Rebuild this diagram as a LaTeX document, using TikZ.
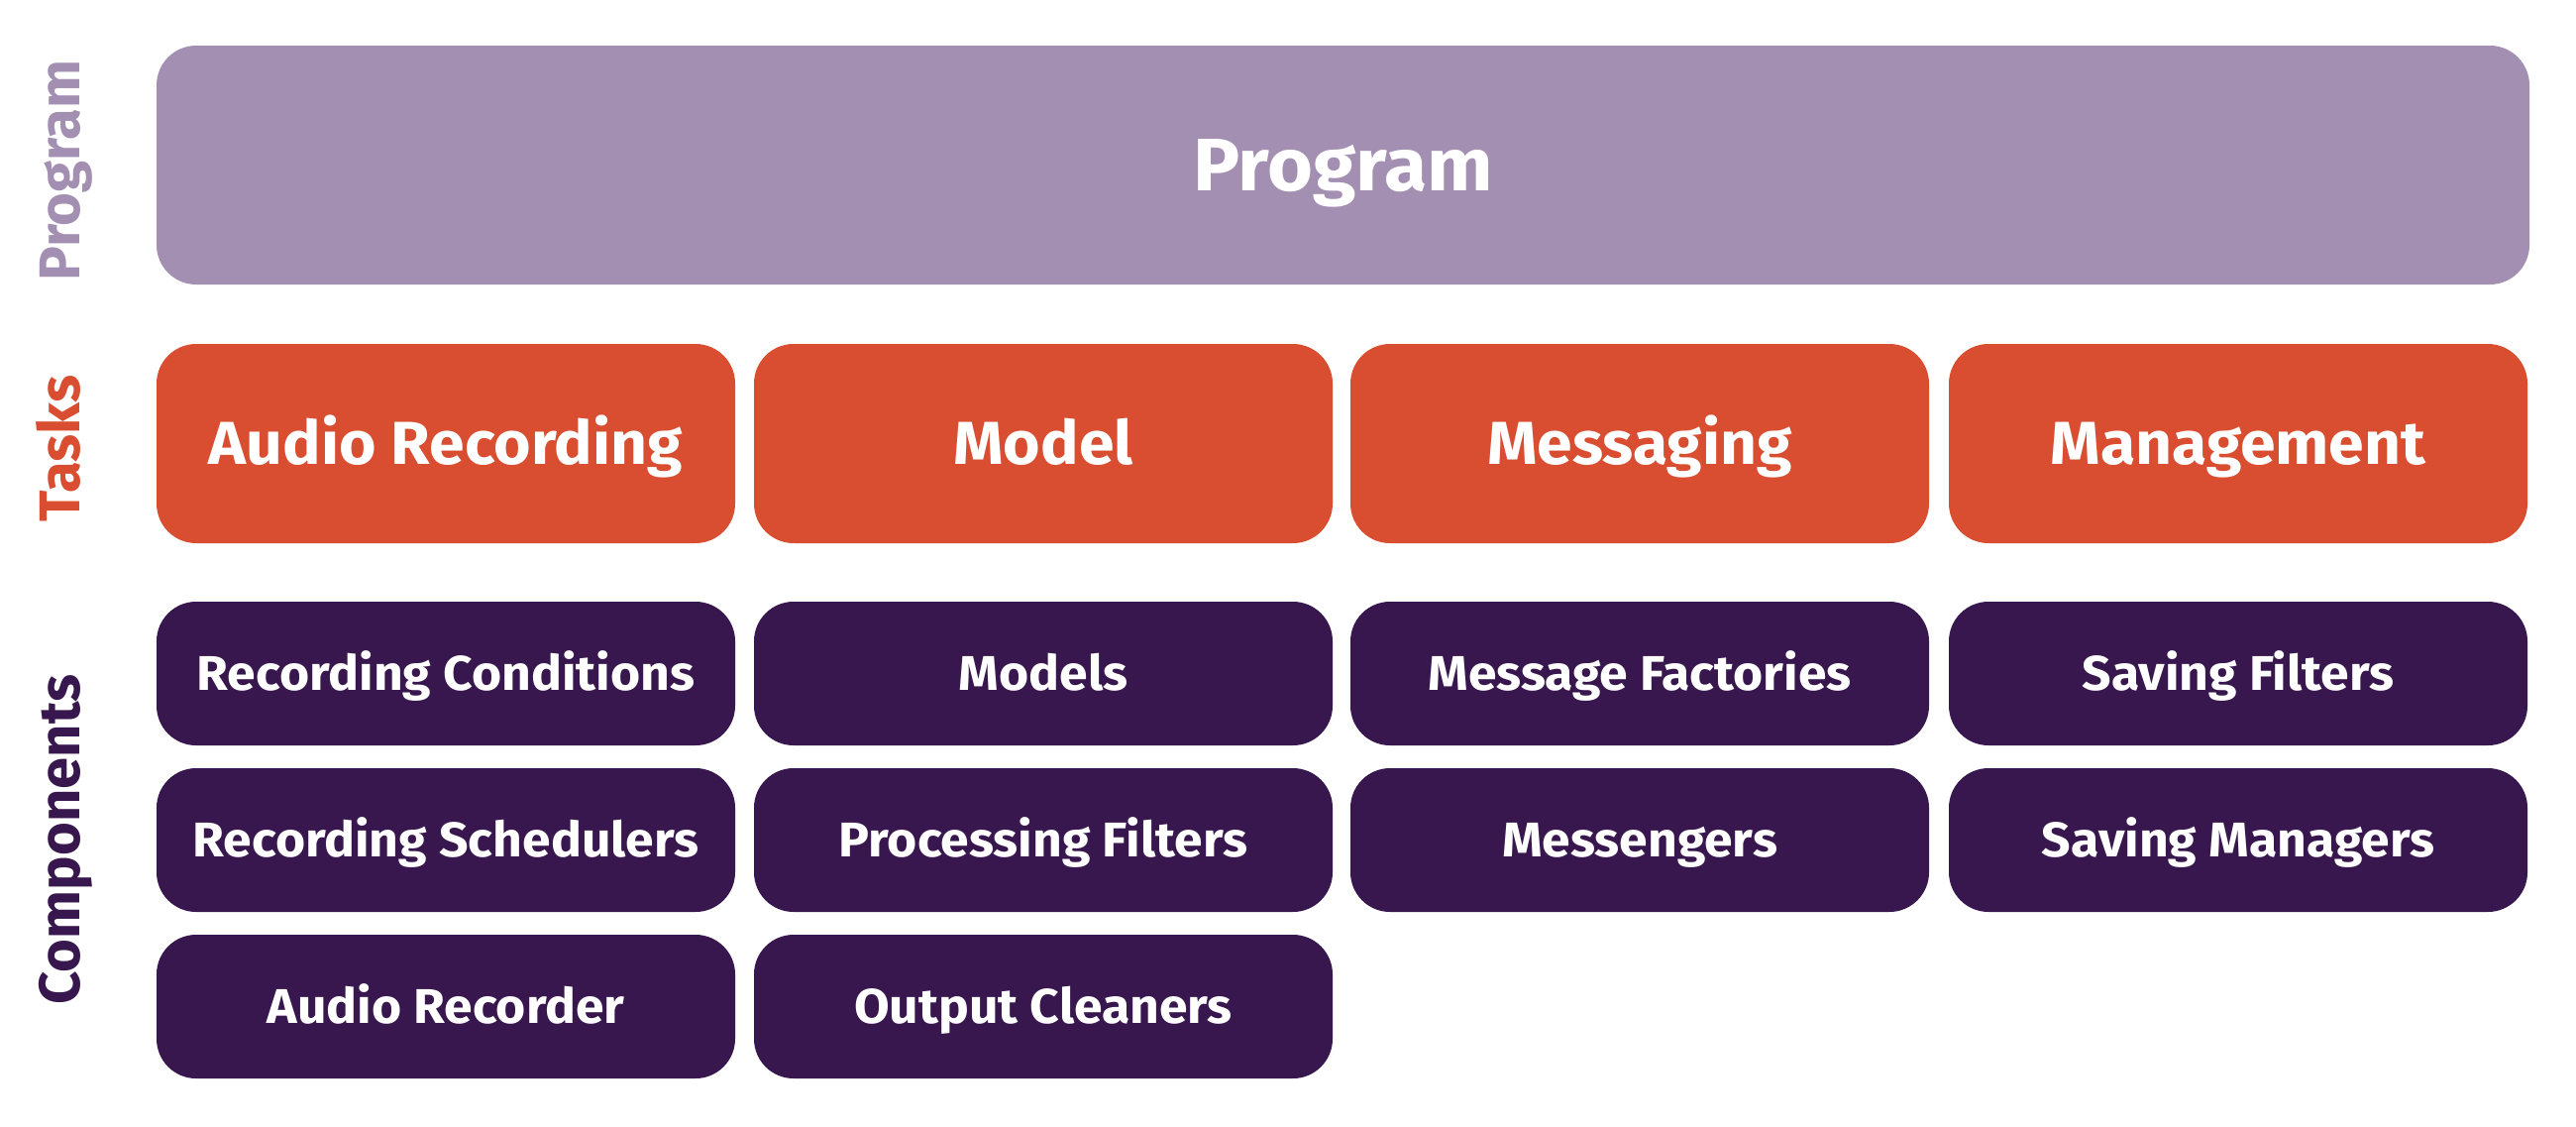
\documentclass[tikz,border=0pt]{standalone}
\usepackage{fontspec}
\setmainfont{Fira Sans}
\newfontfamily\boxfont{Fira Sans}[FakeStretch=1.05]
\definecolor{progc}{HTML}{A28FB1}
\definecolor{taskc}{HTML}{D94E30}
\definecolor{compc}{HTML}{37174D}
\begin{document}
\begin{tikzpicture}[x=0.5pt,y=-0.5pt,
  box/.style={rounded corners=20pt,inner sep=0pt,text=white},
  progbox/.style={box,fill=progc,minimum width=1197.5pt,minimum height=120.5pt,
    font=\boxfont\fontsize{37.5}{40}\bfseries\selectfont,text height=26pt,text depth=0pt},
  taskbox/.style={box,fill=taskc,minimum width=292pt,minimum height=100.5pt,
    font=\boxfont\fontsize{30.6}{34}\bfseries\selectfont,text height=21pt,text depth=0pt},
  compbox/.style={box,fill=compc,minimum width=292pt,minimum height=72.5pt,
    font=\boxfont\fontsize{24.6}{28}\bfseries\selectfont,text height=16.8pt,text depth=0pt},
  side/.style={rotate=90,anchor=base,inner sep=0pt,font=\fontsize{29}{32}\bfseries\selectfont}
]
\useasboundingbox[fill=white] (0,0) rectangle (2600,1136);
% side labels
\node[side,text=progc] (lprog) at (80,172) {Program};
\node[side,text=taskc] (ltask) at (80,452.5) {Tasks};
\node[side,text=compc] (lcomp) at (80,847) {Components};
% program
\node[progbox] (prog) at (1355.5,166.5) {Program};
% tasks
\node[taskbox] (t1) at (450,447.5) {Audio Recording};
\node[taskbox] (t2) at (1053,447.5) {Model};
\node[taskbox] (t3) at (1655,447.5) {Messaging};
\node[taskbox] (t4) at (2259,447.5) {Management};
% components row 1
\node[compbox] (c11) at (450,679.5) {Recording Conditions};
\node[compbox] (c21) at (1053,679.5) {Models};
\node[compbox] (c31) at (1655,679.5) {Message Factories};
\node[compbox] (c41) at (2259,679.5) {Saving Filters};
% row 2
\node[compbox] (c12) at (450,847.5) {Recording Schedulers};
\node[compbox] (c22) at (1053,847.5) {Processing Filters};
\node[compbox] (c32) at (1655,847.5) {Messengers};
\node[compbox] (c42) at (2259,847.5) {Saving Managers};
% row 3
\node[compbox] (c13) at (450,1015.5) {Audio Recorder};
\node[compbox] (c23) at (1053,1015.5) {Output Cleaners};
\end{tikzpicture}
\end{document}
